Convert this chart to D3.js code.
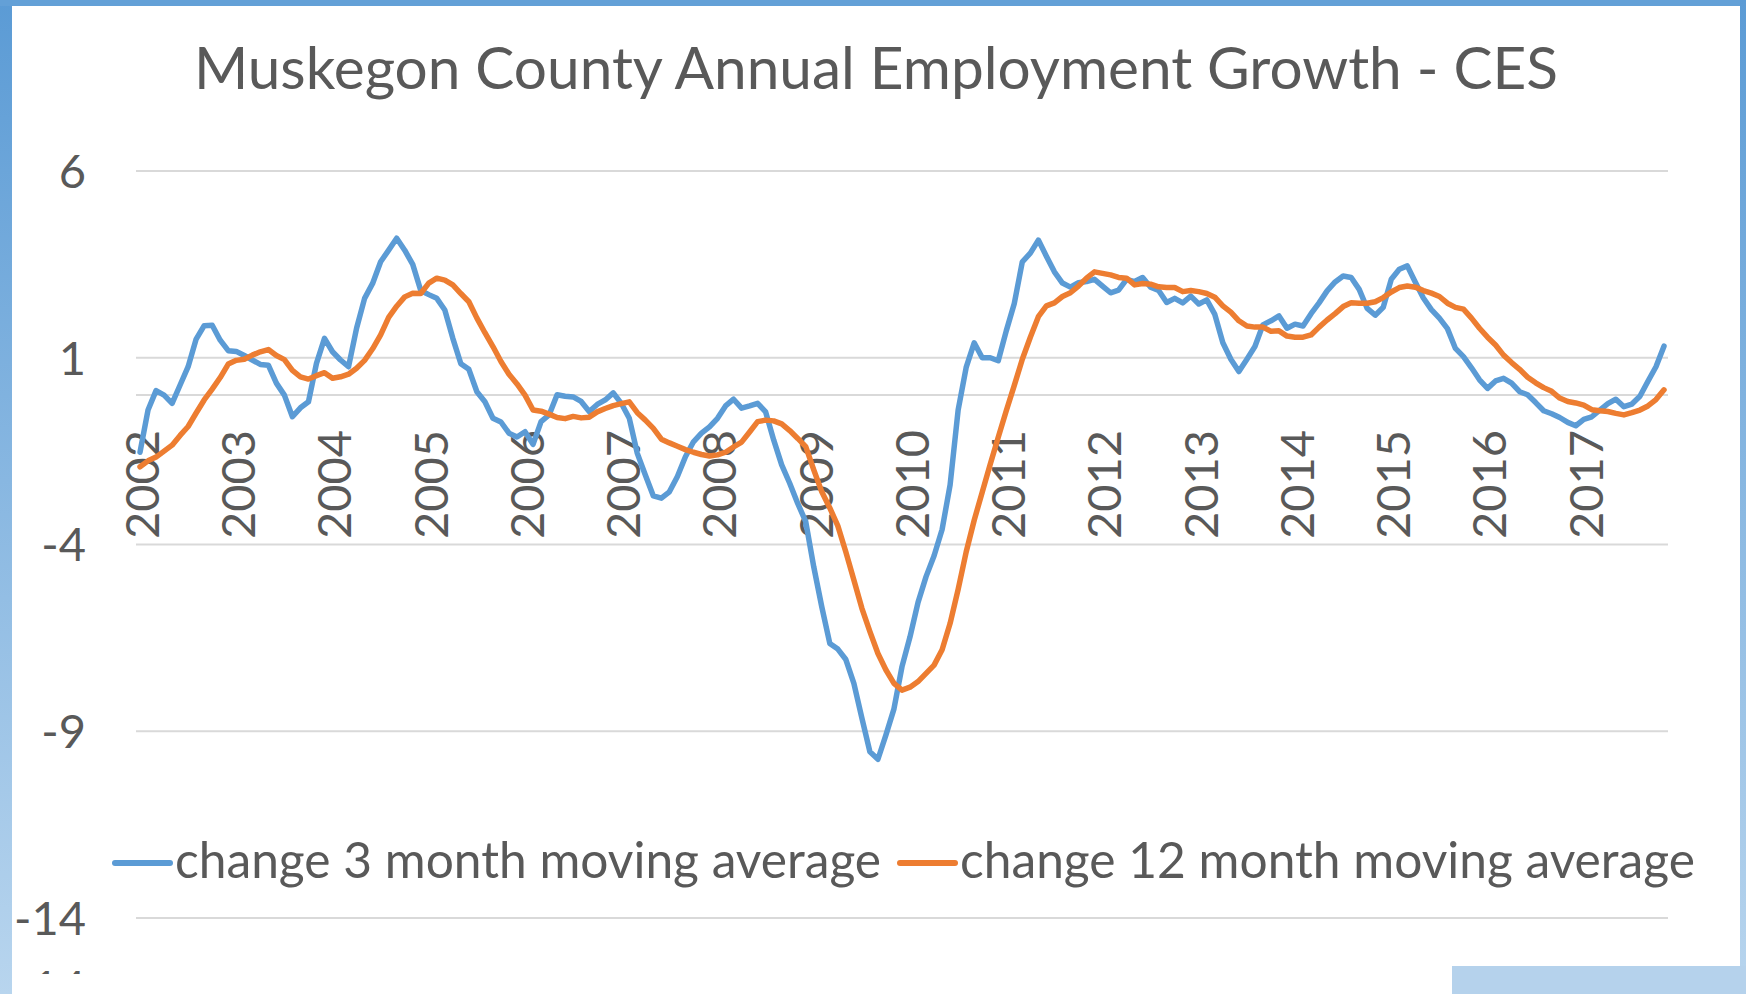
<!DOCTYPE html>
<html>
<head>
<meta charset="utf-8">
<script src="https://cdn.jsdelivr.net/npm/d3@7"></script>
<style>
  body { margin: 0; background: #fff; }
  text { font-family: Lato, "Open Sans", sans-serif; fill: #595959; }
</style>
</head>
<body>
<div id="chart"></div>
<script>
// values, one per month from Jan 2002
const yearLabels = ["2002","2003","2004","2005","2006","2007","2008","2009",
                    "2010","2011","2012","2013","2014","2015","2016","2017"];

const change3 = [
  -1.53,-0.40,0.12,0.00,-0.22,0.27,0.76,1.50,1.86,1.87,1.47,1.19,
  1.17,1.06,0.94,0.82,0.80,0.32,0.00,-0.58,-0.34,-0.18,0.85,1.52,
  1.16,0.94,0.76,1.79,2.59,2.99,3.57,3.88,4.20,3.88,3.50,2.80,
  2.69,2.59,2.28,1.52,0.84,0.69,0.09,-0.18,-0.62,-0.72,-1.02,-1.12,
  -0.98,-1.32,-0.71,-0.53,0.01,-0.03,-0.05,-0.17,-0.44,-0.25,-0.13,0.06,
  -0.22,-0.62,-1.56,-2.14,-2.70,-2.76,-2.59,-2.18,-1.65,-1.25,-1.02,-0.85,
  -0.62,-0.29,-0.11,-0.35,-0.29,-0.22,-0.45,-1.20,-1.87,-2.36,-2.90,-3.39,
  -4.60,-5.67,-6.65,-6.80,-7.08,-7.72,-8.65,-9.55,-9.75,-9.10,-8.40,-7.27,
  -6.47,-5.55,-4.86,-4.30,-3.60,-2.40,-0.40,0.74,1.40,1.00,1.00,0.92,
  1.72,2.45,3.57,3.80,4.15,3.72,3.30,3.00,2.89,3.01,3.04,3.10,
  2.92,2.74,2.81,3.10,3.04,3.15,2.89,2.80,2.48,2.59,2.47,2.65,
  2.44,2.55,2.16,1.40,0.96,0.63,0.96,1.30,1.88,1.99,2.12,1.79,
  1.90,1.85,2.18,2.47,2.79,3.03,3.19,3.15,2.83,2.32,2.14,2.35,
  3.10,3.37,3.46,3.02,2.60,2.29,2.06,1.78,1.25,1.03,0.73,0.41,
  0.18,0.38,0.45,0.32,0.09,0.01,-0.20,-0.42,-0.50,-0.60,-0.73,-0.82,
  -0.65,-0.58,-0.40,-0.23,-0.11,-0.31,-0.24,-0.03,0.37,0.76,1.31
];

const change12 = [
  -1.92,-1.76,-1.66,-1.50,-1.34,-1.08,-0.84,-0.48,-0.13,0.16,0.47,0.83,
  0.93,0.96,1.07,1.16,1.22,1.06,0.95,0.66,0.49,0.43,0.52,0.60,
  0.45,0.49,0.56,0.72,0.93,1.24,1.61,2.08,2.38,2.63,2.73,2.72,
  3.00,3.13,3.08,2.95,2.72,2.50,2.06,1.67,1.30,0.90,0.56,0.30,
  0.00,-0.40,-0.43,-0.51,-0.60,-0.63,-0.57,-0.61,-0.59,-0.45,-0.36,-0.28,
  -0.23,-0.18,-0.47,-0.67,-0.89,-1.18,-1.28,-1.37,-1.46,-1.53,-1.59,-1.63,
  -1.60,-1.53,-1.39,-1.26,-0.99,-0.71,-0.67,-0.69,-0.77,-0.95,-1.16,-1.38,
  -2.00,-2.59,-3.02,-3.50,-4.20,-4.95,-5.71,-6.33,-6.92,-7.36,-7.72,-7.90,
  -7.82,-7.67,-7.45,-7.23,-6.82,-6.11,-5.20,-4.20,-3.35,-2.60,-1.85,-1.13,
  -0.42,0.26,0.96,1.55,2.10,2.39,2.47,2.64,2.74,2.92,3.13,3.30,
  3.26,3.22,3.15,3.13,2.95,2.99,2.97,2.90,2.88,2.88,2.77,2.80,
  2.77,2.72,2.62,2.39,2.22,1.99,1.85,1.82,1.82,1.71,1.72,1.58,
  1.55,1.55,1.61,1.82,2.01,2.18,2.37,2.47,2.46,2.46,2.50,2.61,
  2.76,2.88,2.92,2.89,2.80,2.73,2.64,2.46,2.35,2.30,2.06,1.79,
  1.55,1.34,1.07,0.87,0.69,0.48,0.33,0.20,0.10,-0.08,-0.17,-0.21,
  -0.27,-0.39,-0.42,-0.44,-0.49,-0.53,-0.47,-0.40,-0.29,-0.12,0.14
];

const seriesNames = ["change 3 month moving average", "change 12 month moving average"];
const seriesColors = ["#5b9bd5", "#ed7d31"];
const yTicks = [6, 1, -4, -9, -14];

const W = 1746, H = 994;

const svg = d3.select("#chart").append("svg")
    .attr("width", W)
    .attr("height", H);

// blue frame of the slide
const grad = svg.append("defs").append("linearGradient")
    .attr("id", "frame")
    .attr("gradientUnits", "userSpaceOnUse")
    .attr("x1", 0).attr("y1", 0).attr("x2", 0).attr("y2", H);
grad.append("stop").attr("offset", 0).attr("stop-color", "#5b9bd5");
grad.append("stop").attr("offset", 1).attr("stop-color", "#b8d5ee");

svg.append("rect").attr("x", 0).attr("y", 0).attr("width", W).attr("height", H).attr("fill", "#fff");
svg.append("rect").attr("x", 0).attr("y", 0).attr("width", 12).attr("height", H).attr("fill", "url(#frame)");
svg.append("rect").attr("x", 0).attr("y", 0).attr("width", W).attr("height", 6).attr("fill", "#63a0d7");
svg.append("rect").attr("x", 1740).attr("y", 0).attr("width", 6).attr("height", H).attr("fill", "url(#frame)");
svg.append("rect").attr("x", 1452).attr("y", 966).attr("width", W - 1452).attr("height", H - 966).attr("fill", "#b5d2ec");

// scales
const months = d3.range(change3.length);
const x = d3.scalePoint()
    .domain(months)
    .range([136, 1668])
    .padding(0.5);

const y = d3.scaleLinear()
    .domain([-14, 6])
    .range([918, 171]);

// gridlines + labels
svg.append("g")
    .selectAll("line")
    .data(yTicks.concat([0]))
    .join("line")
    .attr("x1", 136).attr("x2", 1668)
    .attr("y1", d => y(d)).attr("y2", d => y(d))
    .attr("stroke", "#d9d9d9")
    .attr("stroke-width", 2);

svg.append("g")
    .selectAll("text")
    .data(yTicks)
    .join("text")
    .attr("x", 86)
    .attr("y", d => y(d))
    .attr("dy", "0.36em")
    .attr("text-anchor", "end")
    .attr("font-size", 47)
    .text(d => d);

// clipped leftover label under the axis
svg.append("clipPath").attr("id", "cut")
  .append("rect").attr("x", 0).attr("y", 0).attr("width", 200).attr("height", 974);
svg.append("text")
    .attr("clip-path", "url(#cut)")
    .attr("x", 86)
    .attr("y", y(-14) + 69)
    .attr("dy", "0.36em")
    .attr("text-anchor", "end")
    .attr("font-size", 47)
    .text("-14");

// year labels, rotated
svg.append("g")
    .selectAll("text")
    .data(yearLabels)
    .join("text")
    .attr("transform", (d, i) => `translate(${x(i * 12) + 2},430) rotate(-90)`)
    .attr("dy", "0.36em")
    .attr("text-anchor", "end")
    .attr("font-size", 47)
    .text(d => d);

// lines
const line = d3.line()
    .x((d, i) => x(i))
    .y(d => y(d));

svg.append("g")
    .selectAll("path")
    .data([change3, change12])
    .join("path")
    .attr("d", line)
    .attr("fill", "none")
    .attr("stroke", (d, i) => seriesColors[i])
    .attr("stroke-width", 5.5)
    .attr("stroke-linejoin", "round")
    .attr("stroke-linecap", "round");

// title
svg.append("text")
    .attr("x", 876)
    .attr("y", 89)
    .attr("text-anchor", "middle")
    .attr("font-size", 58.5)
    .text("Muskegon County Annual Employment Growth - CES");

// legend
const legendX = [115, 900];
const leg = svg.append("g")
    .selectAll("g")
    .data(seriesNames)
    .join("g")
    .attr("transform", (d, i) => `translate(${legendX[i]},863)`);

leg.append("line")
    .attr("x1", 0).attr("x2", 55)
    .attr("stroke", (d, i) => seriesColors[i])
    .attr("stroke-width", 6)
    .attr("stroke-linecap", "round");

leg.append("text")
    .attr("x", 60)
    .attr("dy", "0.3em")
    .attr("font-size", 49.7)
    .text(d => d);
</script>
</body>
</html>
